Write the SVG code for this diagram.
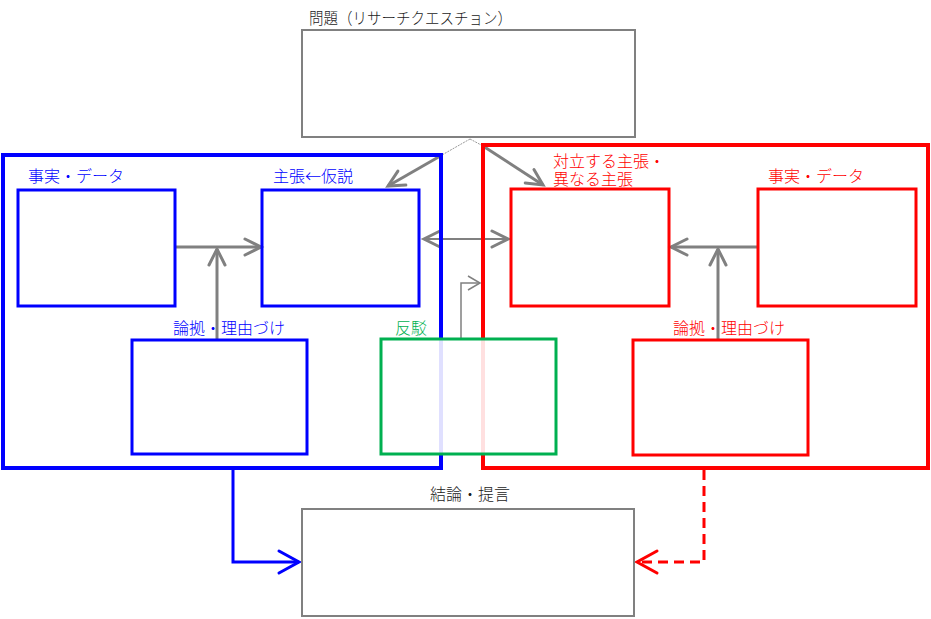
<svg xmlns="http://www.w3.org/2000/svg" width="931" height="619" viewBox="0 0 931 619">
<defs>
<style>
text{font-family:"Liberation Sans","Noto Sans CJK JP",sans-serif;font-size:16px;font-weight:300}
.cjk{font-family:"Noto Sans CJK JP",sans-serif}
.t-k{fill:#1a1a1a}.t-b{fill:#0000ff}.t-r{fill:#ff0000}.t-g{fill:#00b050}
.gbox{fill:#fff;stroke:#808080;stroke-width:2}
.bbox{fill:none;stroke:#0000ff;stroke-width:3}
.rbox{fill:none;stroke:#ff0000;stroke-width:3}
.frame-b{fill:none;stroke:#0000ff;stroke-width:4}
.frame-r{fill:none;stroke:#ff0000;stroke-width:4}
.grn{fill:#fff;fill-opacity:0.88;stroke:#00b050;stroke-width:3}
.ga{fill:none;stroke:#808080;stroke-width:3}
.gthin{fill:none;stroke:#808080;stroke-width:1.5}
.gdot{fill:none;stroke:#999;stroke-width:1;stroke-dasharray:2 1}
</style>
<marker id="ah" markerUnits="userSpaceOnUse" markerWidth="20" markerHeight="20" refX="16" refY="8" orient="auto-start-reverse" overflow="visible">
<path d="M0,0 L16,8 L0,16" fill="none" stroke="#808080" stroke-width="3" stroke-linecap="round" stroke-linejoin="miter"/>
</marker>
<marker id="ahs" markerUnits="userSpaceOnUse" markerWidth="14" markerHeight="16" refX="12" refY="7" orient="auto" overflow="visible">
<path d="M0,0 L12,7 L0,14" fill="none" stroke="#808080" stroke-width="1.5"/>
</marker>
<marker id="ahb" markerUnits="userSpaceOnUse" markerWidth="24" markerHeight="24" refX="20" refY="11" orient="auto" overflow="visible">
<path d="M0,0 L20,11 L0,22" fill="none" stroke="#0000ff" stroke-width="3" stroke-linecap="round"/>
</marker>
<marker id="ahr" markerUnits="userSpaceOnUse" markerWidth="24" markerHeight="24" refX="20" refY="11" orient="auto" overflow="visible">
<path d="M0,0 L20,11 L0,22" fill="none" stroke="#ff0000" stroke-width="3" stroke-linecap="round"/>
</marker>
</defs>
<rect width="931" height="619" fill="#fff"/>

<g id="connectors">
<path class="gdot" d="M470,139 L442,155"/>
<path class="gdot" d="M470,139 L483,146"/>
<path class="ga" d="M442,155 L388,186" marker-end="url(#ah)"/>
<path class="ga" d="M483,146 L543,185" marker-end="url(#ah)"/>
<path class="ga" d="M175,247 L261,247" marker-end="url(#ah)"/>
<path class="ga" d="M217,340 L217,249" marker-end="url(#ah)"/>
<path class="ga" d="M758,247 L671,247" marker-end="url(#ah)"/>
<path class="ga" d="M718,340 L718,249" marker-end="url(#ah)"/>
<path fill="none" stroke="#808080" stroke-width="2" d="M424,239 L508,239" marker-start="url(#ah)" marker-end="url(#ah)"/>
<path class="gthin" d="M461,339 L461,283 L480,283" marker-end="url(#ahs)"/>
<path fill="none" stroke="#0000ff" stroke-width="3" d="M233,468 L233,562 L299,562" marker-end="url(#ahb)"/>
<path fill="none" stroke="#ff0000" stroke-width="3" stroke-dasharray="10 6" d="M704,470 L704,562 L637,562" marker-end="url(#ahr)"/>
</g>

<g id="question">
<rect class="gbox" x="302" y="30" width="333" height="107"/>
<text class="t-k" x="309" y="23.5" textLength="203" lengthAdjust="spacingAndGlyphs">問題（リサーチクエスチョン）</text>
</g>

<g id="frame-own">
<rect class="frame-b" x="3" y="155" width="438" height="313"/>
</g>
<g id="frame-opposing">
<rect class="frame-r" x="483" y="145" width="445" height="323"/>
</g>

<g id="own-data">
<rect class="bbox" x="18" y="190" width="157" height="116"/>
<text class="t-b" x="28" y="182">事実・データ</text>
</g>
<g id="own-claim">
<rect class="bbox" x="262" y="190" width="157" height="116"/>
<text class="t-b" x="273" y="182">主張<tspan class="cjk">←</tspan>仮説</text>
</g>
<g id="own-warrant">
<rect class="bbox" x="132" y="340" width="175" height="114"/>
<text class="t-b" x="173" y="334">論拠・理由づけ</text>
</g>

<g id="opp-claim">
<rect class="rbox" x="511" y="189" width="158" height="117"/>
<text class="t-r" x="553" y="167">対立する主張・</text>
<text class="t-r" x="553" y="185">異なる主張</text>
</g>
<g id="opp-data">
<rect class="rbox" x="758" y="189" width="158" height="117"/>
<text class="t-r" x="768" y="182">事実・データ</text>
</g>
<g id="opp-warrant">
<rect class="rbox" x="633" y="340" width="175" height="115"/>
<text class="t-r" x="673" y="334">論拠・理由づけ</text>
</g>

<g id="rebuttal">
<rect class="grn" x="381" y="339" width="175" height="115"/>
<text class="t-g" x="395" y="334">反駁</text>
</g>

<g id="conclusion">
<rect class="gbox" x="302" y="509" width="332" height="107"/>
<text class="t-k" x="430" y="500">結論・提言</text>
</g>
</svg>
